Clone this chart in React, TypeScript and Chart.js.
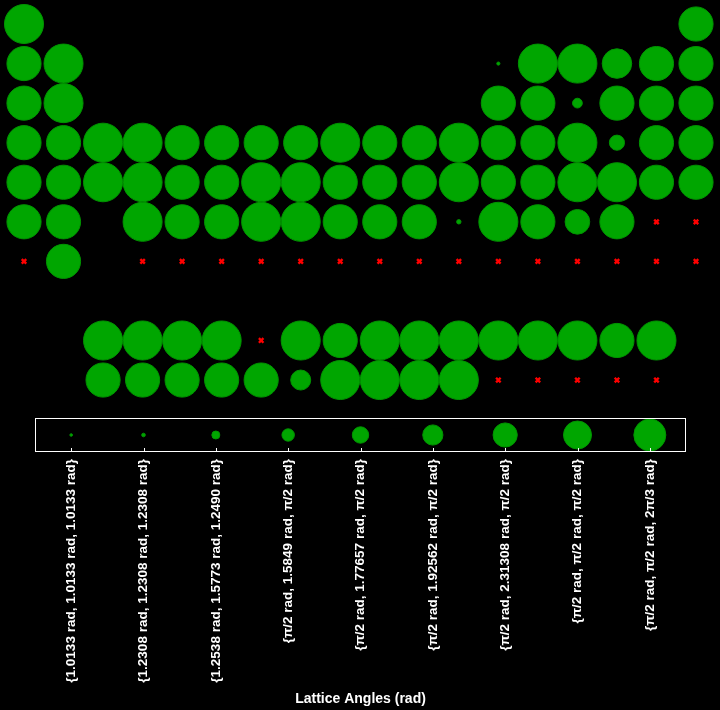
import { useEffect, useRef } from 'react';
import { Chart, registerables } from 'chart.js';

Chart.register(...registerables);

// Lattice-angle categories (legend order, smallest to largest bubble)
const CATEGORY_LABELS = [
  '{1.0133 rad, 1.0133 rad, 1.0133 rad}',
  '{1.2308 rad, 1.2308 rad, 1.2308 rad}',
  '{1.2538 rad, 1.5773 rad, 1.2490 rad}',
  '{π/2 rad, 1.5849 rad, π/2 rad}',
  '{π/2 rad, 1.77657 rad, π/2 rad}',
  '{π/2 rad, 1.92562 rad, π/2 rad}',
  '{π/2 rad, 2.31308 rad, π/2 rad}',
  '{π/2 rad, π/2 rad, π/2 rad}',
  '{π/2 rad, π/2 rad, 2π/3 rad}',
];
// bubble size value for each category
const CATEGORY_SIZES = [1.3, 1.8, 4, 6.2, 8.2, 10.1, 12.1, 14, 16];

// Category number (1-9) per group 1..18; 0 = no data (red cross); null = no element
const period1 = [9, null, null, null, null, null, null, null, null, null, null, null, null, null, null, null, null, 8];
const period2 = [8, 9, null, null, null, null, null, null, null, null, null, null, 1, 9, 9, 7, 8, 8];
const period3 = [8, 9, null, null, null, null, null, null, null, null, null, null, 8, 8, 3, 8, 8, 8];
const period4 = [8, 8, 9, 9, 8, 8, 8, 8, 9, 8, 8, 9, 8, 8, 9, 4, 8, 8];
const period5 = [8, 8, 9, 9, 8, 8, 9, 9, 8, 8, 8, 9, 8, 8, 9, 9, 8, 8];
const period6 = [8, 8, null, 9, 8, 8, 9, 9, 8, 8, 8, 2, 9, 8, 6, 8, 0, 0];
const period7 = [0, 8, null, 0, 0, 0, 0, 0, 0, 0, 0, 0, 0, 0, 0, 0, 0, 0];
// f-block rows, starting at group column 3
const lanthanides = [9, 9, 9, 9, 0, 9, 8, 9, 9, 9, 9, 9, 9, 8, 9];
const actinides = [8, 8, 8, 8, 8, 5, 9, 9, 9, 9, 0, 0, 0, 0, 0];

const TABLE_ROWS: { row: number; startCol: number; cats: (number | null)[] }[] = [
  { row: 1, startCol: 1, cats: period1 },
  { row: 2, startCol: 1, cats: period2 },
  { row: 3, startCol: 1, cats: period3 },
  { row: 4, startCol: 1, cats: period4 },
  { row: 5, startCol: 1, cats: period5 },
  { row: 6, startCol: 1, cats: period6 },
  { row: 7, startCol: 1, cats: period7 },
  { row: 9, startCol: 3, cats: lanthanides },
  { row: 10, startCol: 3, cats: actinides },
];

const GREEN = '#00a600';
const GREEN_EDGE = '#009400';
const FONT = "'Liberation Sans', Arial, Helvetica, sans-serif";
const MAIN_SCALE = 1.22;

const boxPlugin = {
  id: 'boxPlugin',
  afterDraw(chart: any) {
    const { ctx, chartArea } = chart;
    const { left, top, right, bottom } = chartArea;
    ctx.save();
    ctx.strokeStyle = '#ffffff';
    ctx.lineWidth = 1;
    ctx.strokeRect(left + 0.5, top + 0.5, right - left - 1, bottom - top - 1);
    const xs = chart.scales.x;
    ctx.beginPath();
    for (let i = 0; i < xs.ticks.length; i++) {
      const px = Math.round(xs.getPixelForTick(i)) + 0.5;
      ctx.moveTo(px, bottom - 4);
      ctx.lineTo(px, bottom);
    }
    ctx.stroke();
    ctx.restore();
  },
};

export default function App() {
  const mainRef = useRef<HTMLCanvasElement>(null);
  const legRef = useRef<HTMLCanvasElement>(null);

  useEffect(() => {
    const known: any[] = [];
    const unknown: any[] = [];
    TABLE_ROWS.forEach(({ row, startCol, cats }) => {
      cats.forEach((c, i) => {
        if (c === null) return;
        const col = startCol + i;
        if (c === 0) unknown.push({ x: col, y: row, r: 3.2 });
        else known.push({ x: col, y: row, r: CATEGORY_SIZES[c - 1] * MAIN_SCALE });
      });
    });

    const main = new Chart(mainRef.current!, {
      type: 'bubble',
      data: {
        datasets: [
          {
            data: known,
            backgroundColor: GREEN,
            borderColor: GREEN_EDGE,
            borderWidth: 1,
            clip: false,
          } as any,
          {
            data: unknown,
            pointStyle: 'crossRot',
            backgroundColor: '#ff0000',
            borderColor: '#ff0000',
            borderWidth: 2.4,
            clip: false,
          } as any,
        ],
      },
      options: {
        animation: false,
        responsive: true,
        maintainAspectRatio: false,
        events: [],
        layout: { padding: 0, autoPadding: false },
        plugins: { legend: { display: false }, tooltip: { enabled: false } },
        scales: {
          x: { type: 'linear', display: false, min: 0.393, max: 18.607 },
          y: { type: 'linear', display: false, reverse: true, min: 0.393, max: 10.631 },
        },
      },
    });

    const leg = new Chart(legRef.current!, {
      type: 'bubble',
      data: {
        datasets: [
          {
            data: CATEGORY_SIZES.map((s, i) => ({ x: CATEGORY_LABELS[i], y: 0.5, r: s })),
            backgroundColor: GREEN,
            borderColor: GREEN_EDGE,
            borderWidth: 1,
            clip: false,
          } as any,
        ],
      },
      options: {
        animation: false,
        responsive: true,
        maintainAspectRatio: false,
        events: [],
        layout: { padding: { left: 35, right: 34, top: 13, bottom: 0 }, autoPadding: false },
        plugins: { legend: { display: false }, tooltip: { enabled: false } },
        scales: {
          x: {
            type: 'category',
            labels: CATEGORY_LABELS,
            offset: true,
            grid: { display: false, drawTicks: false },
            border: { display: false },
            ticks: {
              color: '#ffffff',
              font: { family: FONT, size: 13.5, weight: 'bold' },
              minRotation: 90,
              maxRotation: 90,
              autoSkip: false,
              padding: 7,
            },
            title: {
              display: true,
              text: 'Lattice Angles (rad)',
              color: '#ffffff',
              font: { family: FONT, size: 14, weight: 'bold' },
              padding: { top: 4, bottom: 2 },
            },
            afterFit: (scale: any) => {
              scale.height = 258;
            },
          } as any,
          y: { type: 'linear', display: false, min: 0, max: 1 },
        },
      },
      plugins: [boxPlugin],
    });

    return () => {
      main.destroy();
      leg.destroy();
    };
  }, []);

  return (
    <div style={{ position: 'fixed', left: 0, top: 0, width: 720, height: 710, background: '#000' }}>
      <div style={{ position: 'absolute', left: 0, top: 0, width: 720, height: 405 }}>
        <canvas ref={mainRef} />
      </div>
      <div style={{ position: 'absolute', left: 0, top: 405, width: 720, height: 305 }}>
        <canvas ref={legRef} />
      </div>
    </div>
  );
}
